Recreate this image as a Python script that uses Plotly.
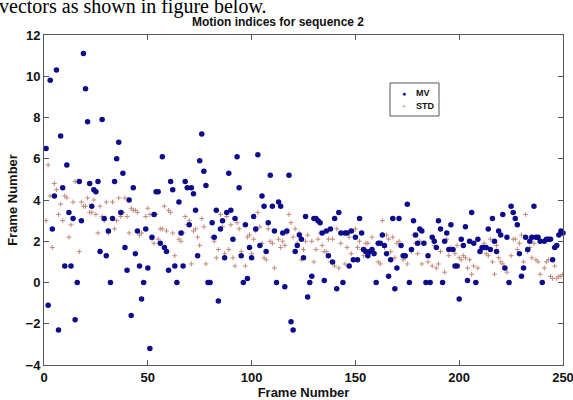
import plotly.graph_objects as go

# Motion vector index (MV) per frame, frames 1..250
mv = [
    6.5, -1.1, 9.8, 2.6, 4.2, 10.3, -2.3, 7.1, 4.6, 0.8,
    5.7, 3.4, 0.8, 3.1, -1.8, 0.0, 4.9, 3.0, 11.1, 9.4,
    7.8, 4.8, 3.7, 4.5, 4.4, 4.9, 1.5, 7.9, 3.1, 1.3,
    2.5, 0.0, 3.1, 4.9, 6.0, 6.8, 3.4, 5.3, 1.7, 0.6,
    4.0, -1.6, 4.6, 1.4, 2.5, 0.8, -0.8, 0.0, 2.6, 0.7,
    -3.2, 2.2, 3.3, 4.4, 4.4, 1.9, 6.1, 1.7, 1.5, 0.6,
    4.9, 4.5, 0.8, 0.0, 3.9, 2.4, 0.8, 4.9, 4.6, 2.8,
    4.6, 4.3, 3.5, 1.3, 5.9, 7.2, 5.4, 4.7, 0.0, 0.0,
    2.9, 2.2, 3.5, -0.9, 2.6, 3.0, 1.2, 3.4, 5.3, 3.5,
    2.1, 3.1, 6.1, 4.6, 1.3, 0.0, 2.8, 0.2, 1.7, 1.2,
    3.2, 2.6, 6.2, 1.8, 4.2, 3.7, 1.5, 2.9, 5.2, 3.7,
    2.5, 0.0, 3.9, 3.7, 2.4, -0.2, 2.5, 5.2, -1.9, -2.3,
    1.5, 1.8, 2.3, 2.1, 1.2, 3.2, -0.7, 0.0, 0.3, 3.1,
    3.1, 3.0, 2.9, 2.4, 0.1, 2.5, 1.3, 2.6, 1.0, 3.1,
    -0.3, 3.4, 2.4, 0.0, 2.4, 2.4, 0.8, 2.5, 1.1, 2.2,
    1.1, 3.1, 2.4, 1.6, 1.5, 1.3, 1.5, 1.6, 1.4, 0.0,
    1.9, 1.9, 2.3, 1.8, 1.4, 0.3, 1.1, 3.1, -0.3, 0.7,
    3.1, 1.8, 1.3, 1.3, 3.8, 0.0, 1.6, 3.0, 2.3, 1.9,
    2.6, 2.5, 1.9, 0.0, 1.3, 0.0, 2.2, 2.0, 1.7, 3.0,
    2.6, 0.0, 2.0, 2.4, 1.6, 2.8, 1.6, 0.8, 0.8, -0.8,
    2.1, 1.8, 2.7, 0.1, 2.0, 3.4, 1.9, 0.0, 2.1, 1.5,
    1.7, 1.7, 1.7, 2.6, 1.6, 3.1, 2.0, 1.5, 2.5, 2.3,
    3.3, 0.7, 2.2, 0.0, 3.7, 3.4, 3.1, 2.8, 1.4, 0.3,
    0.7, 2.2, 1.6, 2.0, 2.2, 3.7, 2.2, 2.2, 2.0, 0.0,
    2.0, 2.1, 2.1, 2.1, 1.1, 1.7, 1.8, 2.3, 2.5, 2.4,
]

# Standard deviation index (STD) per frame, frames 1..250
std = [
    3.0, 5.7, 4.2, 1.7, 4.8, 4.5, 3.3, 3.8, 3.0, 4.2,
    4.1, 2.2, 2.8, 3.9, 4.9, 0.0, 1.5, 3.9, 3.7, 3.7,
    4.1, 3.4, 3.4, 4.0, 3.3, 2.4, 3.7, 3.2, 3.0, 3.9,
    2.4, 0.0, 3.9, 2.6, 3.0, 4.1, 3.2, 3.4, 4.1, 3.2,
    2.4, 3.6, 3.5, 3.5, 3.4, 2.3, 2.4, 0.0, 3.2, 3.6,
    3.3, 2.1, 1.9, 3.3, 2.1, 2.6, 2.6, 3.7, 2.5, 3.5,
    3.4, 2.4, 1.3, 0.0, 2.1, 2.0, 2.4, 3.2, 2.8, 3.0,
    0.9, 2.5, 2.6, 2.2, 1.8, 3.1, 2.7, 0.9, 0.0, 0.0,
    2.2, 2.0, 1.2, 1.6, 3.3, 2.7, 1.4, 3.2, 1.6, 2.8,
    1.2, 0.8, 2.9, 2.6, 1.5, 0.0, 0.8, 2.2, 2.3, 1.4,
    2.1, 2.5, 3.4, 2.7, 1.9, 1.2, 1.1, 2.6, 2.0, 1.9,
    0.7, 0.0, 2.1, 1.7, 2.0, 1.8, 2.4, 3.3, 2.9, 2.2,
    2.6, 1.9, 2.4, 1.1, 1.6, 2.0, 2.3, 0.0, 2.0, 1.0,
    1.6, 2.1, 2.4, 1.8, 1.5, 1.5, 2.1, 1.0, 2.1, 0.8,
    2.6, 0.7, 1.9, 0.0, 0.9, 1.7, 2.2, 1.4, 2.5, 2.6,
    1.7, 2.0, 1.6, 1.3, 1.9, 1.9, 1.5, 2.2, 1.5, 0.0,
    1.0, 0.9, 3.0, 1.7, 2.3, 2.1, 1.5, 2.2, 1.2, 1.9,
    2.0, 1.8, 1.1, 1.2, 0.9, 0.0, 1.5, 2.3, 1.9, 1.4,
    2.0, 0.9, 1.9, 0.0, 1.0, 0.0, 0.8, 1.8, 0.7, 0.9,
    1.5, 0.0, 0.5, 2.1, 1.3, 1.7, 1.6, 1.4, 1.8, 1.2,
    1.1, 1.3, 1.2, 0.7, 1.1, 0.4, 0.8, 0.0, 0.7, 1.5,
    1.6, 1.9, 1.4, 1.3, 2.1, 1.0, 0.4, 1.8, 1.2, 1.0,
    0.9, 0.7, 0.5, 0.0, 1.3, 2.1, 2.1, 1.6, 1.9, 2.3,
    1.0, 3.3, 1.5, 1.7, 1.2, 1.9, 1.1, 1.0, 0.4, 0.0,
    0.7, 1.0, 1.1, 0.3, 0.2, 0.8, 0.2, 0.3, 0.3, 0.4,
]

frames_mv = list(range(1, len(mv) + 1))
frames_std = list(range(1, len(std) + 1))

x_ticks = [0, 50, 100, 150, 200, 250]
y_ticks = [-4, -2, 0, 2, 4, 6, 8, 10, 12]

series_names = ["MV", "STD"]
title_text = "Motion indices for sequence 2"
x_title = "Frame Number"
y_title = "Frame Number"
page_text = "vectors as shown in figure below."

MV_COLOR = "#0c0c8c"
STD_COLOR = "#c4897a"

W, H = 573, 400
ML, MR, MT, MB = 44, 10, 35, 35

fig = go.Figure()
fig.add_trace(go.Scatter(
    x=frames_std, y=std, mode="markers", name=series_names[1],
    marker=dict(symbol="cross-thin", size=3.5, color=STD_COLOR,
                line=dict(width=1, color=STD_COLOR)),
    showlegend=False,
))
fig.add_trace(go.Scatter(
    x=frames_mv, y=mv, mode="markers", name=series_names[0],
    marker=dict(symbol="circle", size=5.5, color=MV_COLOR),
    cliponaxis=False, showlegend=False,
))

bold = dict(family="Liberation Sans, Arial, sans-serif", size=13, color="#111", weight="bold")

common_axis = dict(
    ticks="inside", ticklen=5, tickcolor="#555", showline=True, linecolor="#555",
    linewidth=1, mirror="allticks", showgrid=False, zeroline=False,
    tickfont=bold, automargin=False, ticklabeloverflow="allow",
)
fig.update_xaxes(range=[0, 250], tickvals=x_ticks,
                 title=dict(text=x_title, font=bold, standoff=1), **common_axis)
fig.update_yaxes(range=[-4, 12], tickvals=y_ticks,
                 title=dict(text=y_title, font=bold, standoff=5), **common_axis)


def py(p):
    return (H - MB - p) / (H - MT - MB)


def px(p):
    return (p - ML) / (W - ML - MR)


# title and page text
fig.add_annotation(
    x=px(278), y=py(22), xref="paper", yref="paper", xanchor="center", yanchor="middle",
    text=title_text, showarrow=False,
    font=dict(family="Liberation Sans, Arial, sans-serif", size=12, color="#111", weight="bold"),
)
fig.add_annotation(
    x=px(-3), y=py(7), xref="paper", yref="paper", xanchor="left", yanchor="middle",
    text=page_text, showarrow=False,
    font=dict(family="Liberation Serif, Times New Roman, serif", size=20, color="#000"),
)

# legend box (drawn to match the compact MATLAB legend)
fig.add_shape(type="rect", xref="paper", yref="paper",
              x0=px(390), x1=px(439), y0=py(116), y1=py(83),
              line=dict(color="#555", width=1), fillcolor="white", layer="above")
leg_font = dict(family="Liberation Sans, Arial, sans-serif", size=9, color="#111", weight="bold")
fig.add_annotation(x=px(404), y=py(93), xref="paper", yref="paper", showarrow=False,
                   text="●", font=dict(size=7, color=MV_COLOR), xanchor="center", yanchor="middle")
fig.add_annotation(x=px(414), y=py(93), xref="paper", yref="paper", showarrow=False,
                   text=series_names[0], font=leg_font, xanchor="left", yanchor="middle")
fig.add_annotation(x=px(404), y=py(106), xref="paper", yref="paper", showarrow=False,
                   text="+", font=dict(size=7, color=STD_COLOR), xanchor="center", yanchor="middle")
fig.add_annotation(x=px(414), y=py(106), xref="paper", yref="paper", showarrow=False,
                   text=series_names[1], font=leg_font, xanchor="left", yanchor="middle")

fig.update_layout(
    width=W, height=H,
    margin=dict(l=ML, r=MR, t=MT, b=MB, autoexpand=False),
    paper_bgcolor="white", plot_bgcolor="white",
    showlegend=False,
)

fig.write_html("out.html", config={"displayModeBar": False},
               post_script="document.body.style.margin='0';")
